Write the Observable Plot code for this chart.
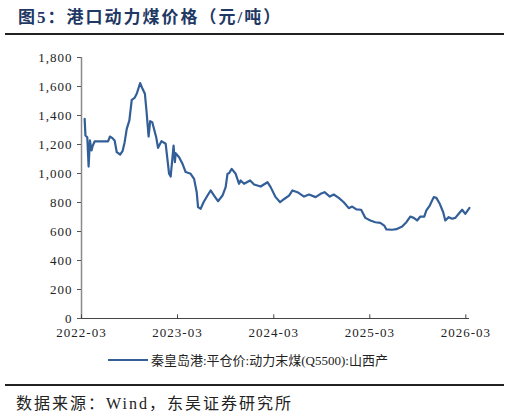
<!DOCTYPE html>
<html>
<head>
<meta charset="utf-8">
<script src="https://cdn.jsdelivr.net/npm/d3@7"></script>
<script src="https://cdn.jsdelivr.net/npm/@observablehq/plot@0.6"></script>
<style>
  html, body { margin: 0; padding: 0; background: #fff; }
  #page { position: relative; width: 510px; height: 419px; overflow: hidden; background: #fff; }
  #title { position: absolute; left: 18px; top: 3px; font-family: "Liberation Serif", "Noto Sans CJK SC", serif; font-weight: bold; font-size: 17px; letter-spacing: 2px; color: #1f3864; white-space: nowrap; }
  .hr { position: absolute; left: 5px; width: 499px; height: 2px; background: #222; }
  #chart { position: absolute; left: 0; top: 0; }
  #chart svg text { font-family: "Liberation Serif", "Noto Sans CJK SC", serif !important; letter-spacing: 1px; }
  #legend { position: absolute; left: 108px; top: 350px; font-family: "Liberation Serif", "Noto Sans CJK SC", serif; font-size: 13px; color: #222; white-space: nowrap; display: flex; align-items: center; }
  #legend .sw { display: inline-block; width: 40px; height: 2px; background: #335f99; margin-right: 3px; }
  #footer { position: absolute; left: 16px; top: 390px; font-family: "Liberation Serif", "Noto Sans CJK SC", serif; font-size: 16px; letter-spacing: 2px; color: #222; white-space: nowrap; }
</style>
</head>
<body>
<div id="page">
  <div id="title">图5：港口动力煤价格（元/吨）</div>
  <div class="hr" style="top:33px"></div>
  <div id="chart"></div>
  <div id="legend"><span class="sw"></span><span id="legendText"></span></div>
  <div class="hr" style="top:384px"></div>
  <div id="footer">数据来源：Wind，东吴证券研究所</div>
</div>
<script>
const seriesName = "秦皇岛港:平仓价:动力末煤(Q5500):山西产";
const dates = [
  "2022-03-13","2022-03-16","2022-03-23","2022-03-28","2022-04-02","2022-04-08","2022-04-13","2022-04-20",
  "2022-06-10","2022-06-17","2022-06-25","2022-07-05","2022-07-13","2022-07-26","2022-08-04","2022-08-12",
  "2022-08-20","2022-08-30","2022-09-08","2022-09-19","2022-09-27","2022-10-10","2022-10-19","2022-10-28",
  "2022-11-04","2022-11-11","2022-11-17","2022-11-25","2022-12-10","2022-12-17","2022-12-30","2023-01-15",
  "2023-01-28","2023-02-03","2023-02-14","2023-02-19","2023-02-22","2023-03-07","2023-03-20","2023-04-01",
  "2023-04-20","2023-05-03","2023-05-13","2023-05-18","2023-05-28","2023-06-08","2023-06-23","2023-07-05",
  "2023-07-18","2023-08-02","2023-08-19","2023-08-31","2023-09-07","2023-09-13","2023-09-23","2023-10-08",
  "2023-10-21","2023-10-27","2023-11-09","2023-12-02","2023-12-17","2024-01-11","2024-02-06","2024-02-18",
  "2024-03-08","2024-03-25","2024-04-11","2024-04-28","2024-05-11","2024-05-30","2024-06-24","2024-07-13",
  "2024-08-07","2024-08-26","2024-09-10","2024-09-30","2024-10-15","2024-11-03","2024-11-22","2024-12-11",
  "2024-12-24","2025-01-09","2025-01-27","2025-02-12","2025-03-03","2025-03-22","2025-04-10","2025-04-25",
  "2025-05-03","2025-05-25","2025-06-10","2025-07-02","2025-07-18","2025-08-02","2025-08-15","2025-08-28",
  "2025-09-09","2025-09-24","2025-10-02","2025-10-15","2025-10-30","2025-11-09","2025-11-22","2025-12-05",
  "2025-12-13","2025-12-26","2026-01-08","2026-01-20","2026-02-02","2026-02-15","2026-02-27","2026-03-15"
];
const prices = [
  1377,1262,1250,1048,1228,1159,1193,1221,
  1221,1255,1246,1228,1147,1131,1154,1216,
  1308,1366,1508,1522,1550,1623,1584,1550,
  1412,1255,1361,1354,1250,1177,1223,1205,
  998,979,1193,1078,1140,1112,1067,1010,
  998,963,871,768,757,802,848,883,
  848,809,848,906,998,1002,1032,998,
  929,952,929,952,924,910,940,906,
  837,802,826,848,883,871,841,855,
  837,860,871,841,855,832,802,761,
  772,752,750,694,676,664,660,641,
  614,612,616,634,664,703,694,676,
  703,703,745,779,837,832,791,733,
  676,699,688,694,722,750,722,763
];
const xTickLabels = ["2022-03","2023-03","2024-03","2025-03","2026-03"];
const yTicks = [0,200,400,600,800,1000,1200,1400,1600,1800];
const xStart = "2022-03-01";
const xEnd = "2026-03-15";

document.getElementById("legendText").textContent = seriesName;

const data = dates.map((d, i) => ({date: new Date(d), price: prices[i]}));
const xTicks = xTickLabels.map(s => new Date(s + "-01"));
const serif = '"Liberation Serif", "Noto Sans CJK SC", serif';

const chart = Plot.plot({
  width: 510,
  height: 345,
  marginLeft: 81,
  marginRight: 41,
  marginTop: 57,
  marginBottom: 27,
  style: {fontFamily: serif, fontSize: "13px", color: "#222", background: "transparent"},
  x: {type: "utc", domain: [new Date(xStart), new Date(xEnd)], label: null},
  y: {domain: [0, 1800], label: null},
  marks: [
    Plot.ruleX([new Date(xStart)], {stroke: "#8a8a8a", strokeWidth: 1.5}),
    Plot.ruleY([0], {stroke: "#444", strokeWidth: 1.2}),
    Plot.axisY({ticks: yTicks, tickSize: 4, tickPadding: 5, tickFormat: d3.format(","), stroke: "#555", fontFamily: serif, fontSize: 13, label: null}),
    Plot.axisX({ticks: xTicks, tickSize: 0, tickPadding: 9, tickFormat: d3.utcFormat("%Y-%m"), fontFamily: serif, fontSize: 13, label: null}),
    Plot.ruleX(xTicks, {y1: 0, y2: 25, stroke: "#444"}),
    Plot.line(data, {x: "date", y: "price", stroke: "#335f99", strokeWidth: 2.2})
  ]
});
document.getElementById("chart").appendChild(chart);
</script>
</body>
</html>
